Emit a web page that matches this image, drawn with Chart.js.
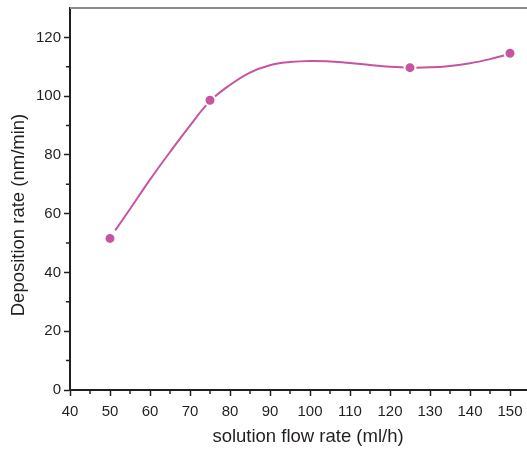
<!DOCTYPE html>
<html>
<head>
<meta charset="utf-8">
<script src="https://cdn.jsdelivr.net/npm/chart.js@4/dist/chart.umd.min.js"></script>
<style>
  html, body { margin: 0; padding: 0; background: #fff; }
  #wrap { width: 527px; height: 451px; }
</style>
</head>
<body>
<div id="wrap"><canvas id="chart" width="527" height="451"></canvas></div>
<script>
// measured points
const flowRates = [50, 75, 125, 150];
const depositionRates = [51.6, 98.6, 109.7, 114.6];

// fitted curve
const curveX = [51.3, 55, 60, 65, 70, 75, 80, 85, 90, 95, 100, 105, 110, 115, 120, 125, 130, 135, 140, 145, 148.6];
const curveY = [54.3, 61.6, 71.6, 81.0, 90.0, 98.3, 103.8, 108.0, 110.5, 111.6, 112.0, 111.8, 111.3, 110.6, 110.0, 109.7, 109.8, 110.3, 111.2, 112.6, 113.9];

const xTicks = [40, 50, 60, 70, 80, 90, 100, 110, 120, 130, 140, 150];
const yTicks = [0, 20, 40, 60, 80, 100, 120];

const xTitle = "solution flow rate (ml/h)";
const yTitle = "Deposition rate (nm/min)";

const ink = "#231f20";
const pink = "#c8539e";
const fontFamily = "Liberation Sans, Arial, sans-serif";

// minor ticks, grey top frame line and axis titles
const frameAndMinor = {
  id: "frameAndMinor",
  afterDraw(chart) {
    const { ctx, chartArea, scales } = chart;
    ctx.save();
    ctx.strokeStyle = "#8a8a8a";
    ctx.lineWidth = 2;
    ctx.beginPath();
    ctx.moveTo(chartArea.left, chartArea.top);
    ctx.lineTo(chartArea.right, chartArea.top);
    ctx.stroke();

    ctx.strokeStyle = ink;
    ctx.lineWidth = 1.5;
    ctx.beginPath();
    for (let v = 45; v < scales.x.max; v += 10) {
      const px = scales.x.getPixelForValue(v);
      ctx.moveTo(px, chartArea.bottom);
      ctx.lineTo(px, chartArea.bottom + 4);
    }
    for (let v = 10; v < scales.y.max; v += 20) {
      const py = scales.y.getPixelForValue(v);
      ctx.moveTo(chartArea.left, py);
      ctx.lineTo(chartArea.left - 4, py);
    }
    ctx.stroke();

    ctx.fillStyle = ink;
    ctx.font = "18.5px " + fontFamily;
    ctx.textAlign = "center";
    ctx.textBaseline = "middle";
    ctx.fillText(xTitle, 308, 437);
    ctx.translate(19, 215);
    ctx.rotate(-Math.PI / 2);
    ctx.fillText(yTitle, 0, 0);
    ctx.restore();
  }
};

new Chart(document.getElementById("chart").getContext("2d"), {
  type: "scatter",
  data: {
    datasets: [
      {
        label: "measured",
        data: flowRates.map((x, i) => ({ x, y: depositionRates[i] })),
        showLine: false,
        pointRadius: 5.5,
        pointBackgroundColor: pink,
        pointBorderColor: "#ffffff",
        pointBorderWidth: 2,
        order: 0
      },
      {
        label: "fit",
        data: curveX.map((x, i) => ({ x, y: curveY[i] })),
        showLine: true,
        borderColor: pink,
        borderWidth: 2,
        tension: 0.4,
        pointRadius: 0,
        order: 1
      }
    ]
  },
  options: {
    responsive: false,
    animation: false,
    layout: { autoPadding: false, padding: { top: 8, right: 0, left: 0, bottom: 0 } },
    plugins: {
      legend: { display: false },
      tooltip: { enabled: false }
    },
    scales: {
      x: {
        type: "linear",
        min: 40,
        max: 154.25,
        afterBuildTicks: (scale) => {
          scale.ticks = xTicks.map((v) => ({ value: v }));
        },
        afterFit: (scale) => {
          scale.height = 61;
          scale.paddingLeft = 0;
          scale.paddingRight = 0;
        },
        border: { color: ink, width: 2 },
        grid: { drawOnChartArea: false, drawTicks: true, tickLength: 6, color: ink, tickWidth: 1.5 },
        ticks: {
          color: ink,
          padding: 7,
          maxRotation: 0,
          font: { family: fontFamily, size: 15 }
        }
      },
      y: {
        type: "linear",
        min: 0,
        max: 130,
        afterBuildTicks: (scale) => {
          scale.ticks = yTicks.map((v) => ({ value: v }));
        },
        afterFit: (scale) => {
          scale.width = 70;
          scale.paddingTop = 0;
          scale.paddingBottom = 0;
        },
        border: { color: ink, width: 2 },
        grid: { drawOnChartArea: false, drawTicks: true, tickLength: 6, color: ink, tickWidth: 1.5 },
        ticks: {
          color: ink,
          padding: 3,
          font: { family: fontFamily, size: 15 }
        }
      }
    }
  },
  plugins: [frameAndMinor]
});
</script>
</body>
</html>
